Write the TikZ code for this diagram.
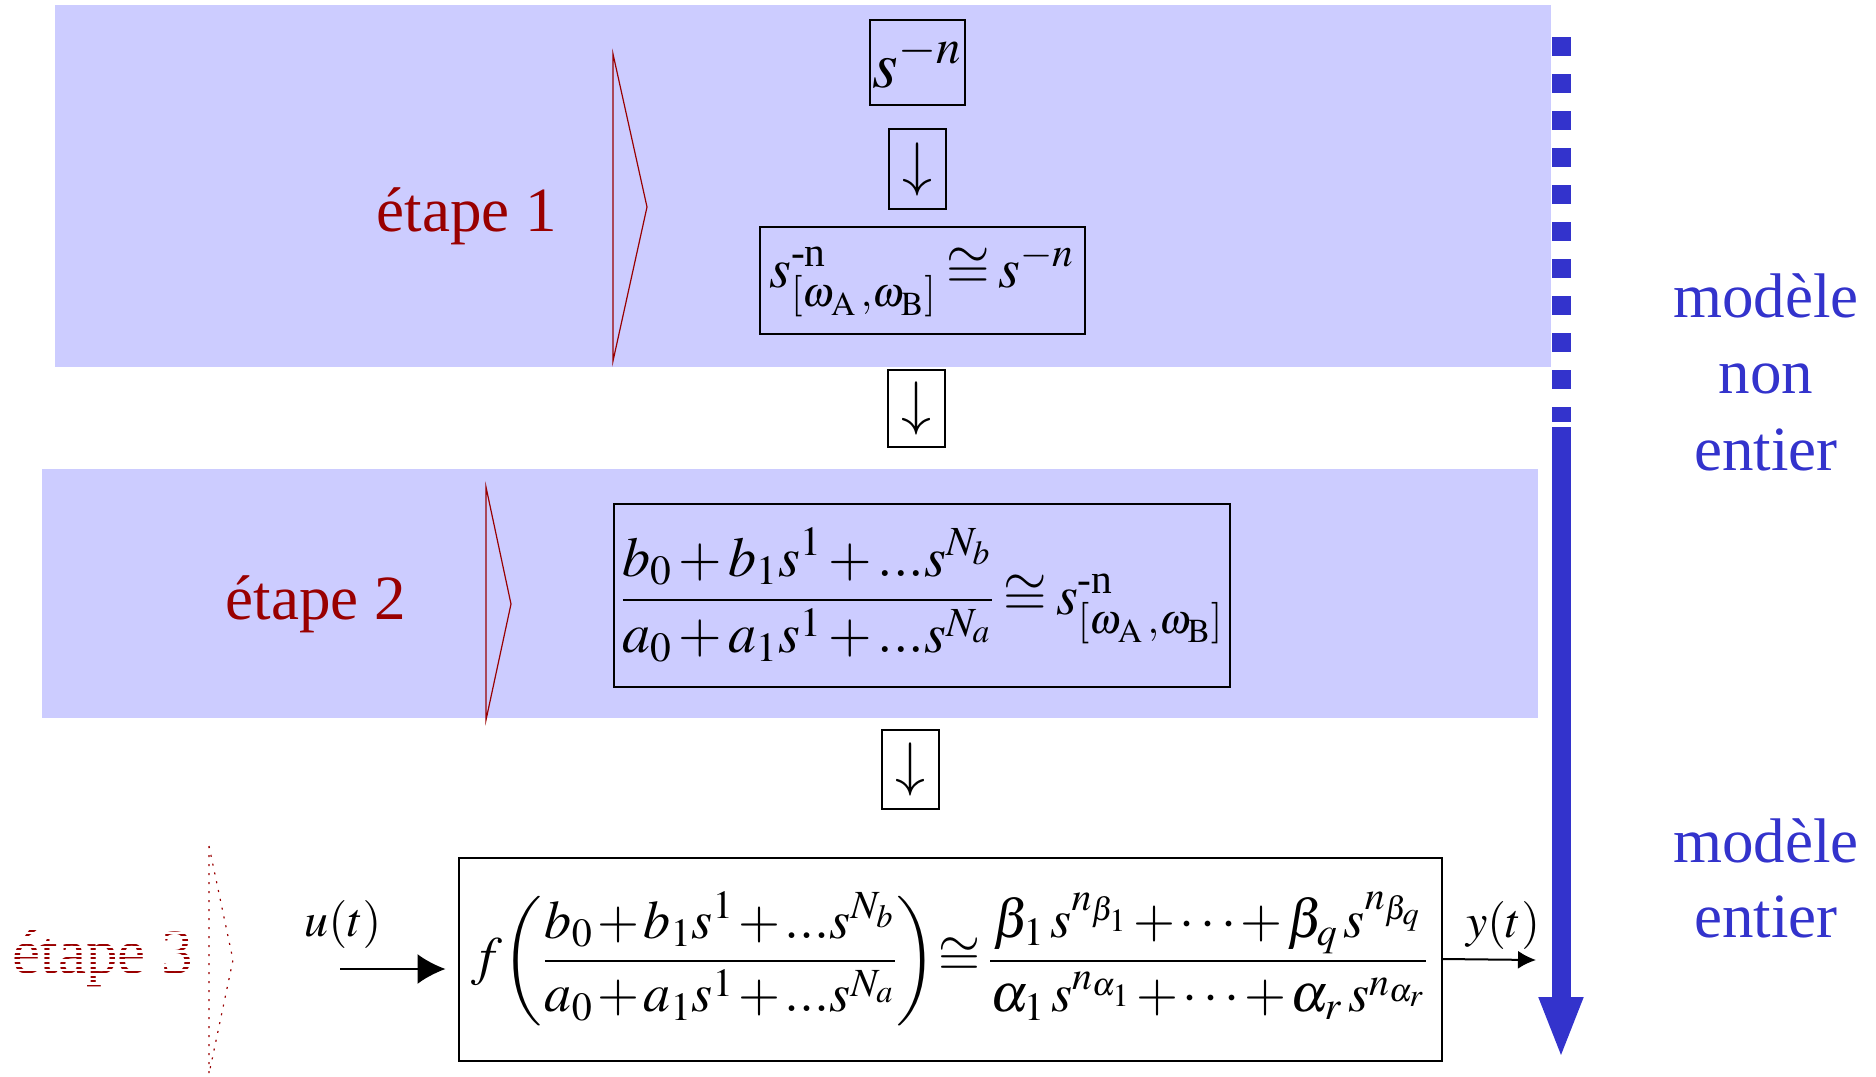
\documentclass[tikz,border=0pt]{standalone}
\usepackage{amsmath}
\usepackage{mathptmx}
\usepackage{fontspec}
\setmainfont{Liberation Serif}
\usetikzlibrary{arrows.meta}
\definecolor{bandc}{RGB}{204,204,255}
\definecolor{bluearr}{RGB}{51,51,204}
\definecolor{dred}{RGB}{153,0,0}
\begin{document}
\begin{tikzpicture}[x=0.5pt,y=-0.5pt,
  mbox/.style={draw, line width=1pt, inner sep=0pt, font=\fontsize{30}{36}\selectfont},
  stagelbl/.style={text=dred, font=\fontsize{31.5}{38}\selectfont, anchor=base, inner sep=0pt},
  chev/.style={draw=dred, line width=0.6pt},
  sidelbl/.style={text=bluearr, font=\fontsize{31.5}{38}\selectfont, anchor=base, inner sep=0pt},
  siglbl/.style={font=\fontsize{24}{29}\selectfont, inner sep=0pt},
  bluebar/.style={bluearr, line width=9.5pt}
]
\useasboundingbox (0,0) rectangle (1876,1077);
% bands
\fill[bandc] (55,5) rectangle (1551,367);
\fill[bandc] (42,469) rectangle (1538,718);

% boxes
\node[mbox, font=\fontsize{33}{40}\selectfont, minimum width=47.5pt, minimum height=42.5pt] (b1) at (917,62) {$s^{-n}$};
\node[mbox, minimum width=28.5pt, minimum height=40pt] (a1) at (917,169) {$\downarrow$};
\node[mbox, font=\fontsize{28}{34}\selectfont, minimum width=162.5pt, minimum height=53.5pt] (b2) at (922,280)
  {$\thickmuskip=3mu s^{\text{-n}}_{[\omega_{\mathrm{A}}\,,\omega_{\mathrm{B}}]}\cong s^{-n}$};
\node[mbox, minimum width=28.5pt, minimum height=38.5pt] (a2) at (916,408) {$\downarrow$};
\node[mbox, font=\fontsize{28}{34}\selectfont, minimum width=308pt, minimum height=91.5pt] (b3) at (922,595)
  {$\medmuskip=2mu\thickmuskip=3mu
   \dfrac{b_0+b_1s^1+...s^{N_b}}{a_0+a_1s^1+...s^{N_a}}\cong s^{\text{-n}}_{[\omega_{\mathrm{A}}\,,\omega_{\mathrm{B}}]}$};
\node[mbox, minimum width=28.5pt, minimum height=39.5pt] (a3) at (910,769) {$\downarrow$};
\node[mbox, font=\fontsize{27}{33}\selectfont, minimum width=491.5pt, minimum height=101.5pt] (b4) at (950,959)
  {$\medmuskip=1.5mu\thickmuskip=2.5mu
   f\!\left(\dfrac{b_0+b_1s^1+...s^{N_b}}{a_0+a_1s^1+...s^{N_a}}\right)\!\cong
   \dfrac{\beta_1\mskip2mu s^{n_{\beta_1}}+\cdots+\beta_q\mskip2mu s^{n_{\beta_q}}}{\alpha_1\mskip2mu s^{n_{\alpha_1}}+\cdots+\alpha_r\mskip2mu s^{n_{\alpha_r}}}$};

% input / output
\coordinate (uin) at (340,969);
\coordinate (yout) at (1536,960);
\draw[line width=1pt, -{Latex[length=14pt,width=15pt]}, shorten >=6pt] (uin) -- (b4.west |- uin);
\draw[line width=1pt, -{Latex[length=9pt,width=9pt]}] (b4.east) -- (yout);
\node[siglbl] (ulbl) at (343,924) {$u(t)$};
\node[siglbl] (ylbl) at (1503,925) {$y(t)$};

% chevrons
\draw[chev] (613,54) -- (647,207) -- (613,361) -- cycle;
\draw[chev] (486,487) -- (511,604) -- (486,720) -- cycle;
\draw[chev, dash pattern=on 1pt off 3.5pt] (209,846) -- (233,960) -- (209,1074) -- cycle;

% stage labels
\node[stagelbl] (e1) at (467,231) {étape 1};
\node[stagelbl] (e2) at (316,619) {étape 2};
\node[stagelbl, text=dred] (e3) at (103,973) {étape 3};
\begin{scope}
  \clip (e3.south west) ++(-4,14) rectangle ([xshift=2pt,yshift=4pt]e3.north east);
  \foreach \k in {0,...,22} \draw[white, line width=1.3pt] (0,910+\k*4.6) -- (200,910+\k*4.6);
\end{scope}

% blue arrow
\coordinate (dtop) at (1561,37);
\coordinate (dbot) at (1561,422);
\coordinate (stop) at (1561,427);
\coordinate (tip) at (1561,1059);
\draw[bluebar, dash pattern=on 9.5pt off 9pt] (dtop) -- (dbot);
\draw[bluebar, -{Triangle[length=31pt,width=20pt]}] (stop) -- (tip);

% side labels
\node[sidelbl] (m1a) at (1766,317) {modèle};
\node[sidelbl] (m1b) at (1766,393) {non};
\node[sidelbl] (m1c) at (1766,470) {entier};
\node[sidelbl] (m2a) at (1766,862) {modèle};
\node[sidelbl] (m2b) at (1766,937) {entier};
\end{tikzpicture}
\end{document}
